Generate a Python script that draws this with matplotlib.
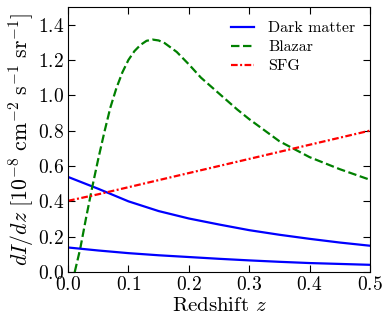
import numpy as np
import matplotlib
matplotlib.use('Agg')
import matplotlib.pyplot as plt

plt.rcParams['font.family'] = 'serif'
plt.rcParams['font.serif'] = ['cmr10']
plt.rcParams['mathtext.fontset'] = 'cm'
plt.rcParams['axes.formatter.use_mathtext'] = True
plt.rcParams['axes.unicode_minus'] = False

# values
z_dm = [0.0, 0.05, 0.1, 0.15, 0.2, 0.25, 0.3, 0.35, 0.4, 0.45, 0.5]
dm_high = [0.538, 0.471, 0.40, 0.345, 0.303, 0.269, 0.237, 0.211, 0.188, 0.167, 0.149]
dm_low = [0.139, 0.122, 0.107, 0.095, 0.085, 0.075, 0.066, 0.058, 0.051, 0.046, 0.041]
sfg = [0.403, 0.44, 0.48, 0.52, 0.56, 0.60, 0.64, 0.68, 0.72, 0.76, 0.80]

z_bl = [0.011, 0.02, 0.03, 0.04, 0.05, 0.06, 0.07, 0.08, 0.09, 0.10, 0.11, 0.12, 0.13,
        0.14, 0.15, 0.16, 0.18, 0.20, 0.22, 0.25, 0.28, 0.30, 0.35, 0.40, 0.45, 0.50]
blazar = [0.0, 0.13, 0.31, 0.48, 0.64, 0.79, 0.93, 1.04, 1.13, 1.20, 1.25, 1.285, 1.308,
          1.315, 1.31, 1.295, 1.245, 1.175, 1.10, 1.01, 0.92, 0.865, 0.74, 0.65, 0.582, 0.522]

fig = plt.figure(figsize=(3.89, 3.27), dpi=100)
ax = fig.add_axes([0.175, 0.168, 0.776, 0.811])

ax.plot(z_dm, dm_high, 'b-', lw=1.6, label='Dark matter')
ax.plot(z_bl, blazar, 'g--', lw=1.6, dashes=(3.8, 1.6), label='Blazar')
ax.plot(z_dm, sfg, 'r-.', lw=1.6, dashes=(3, 1.1, 0.9, 1.1), label='SFG')
ax.plot(z_dm, dm_low, 'b-', lw=1.6)

ax.set_xlim(0, 0.5)
ax.set_ylim(0, 1.5)
ax.set_xticks(np.arange(0, 0.51, 0.1))
ax.set_yticks(np.arange(0, 1.41, 0.2))
ax.tick_params(direction='in', top=True, right=True, labelsize=14, length=5, pad=3)
ax.set_xlabel(r'Redshift $z$', fontsize=15, labelpad=2)
ax.set_ylabel(r'$dI/dz\ [10^{-8}\ \mathrm{cm}^{-2}\ \mathrm{s}^{-1}\ \mathrm{sr}^{-1}]$',
              fontsize=15.7, labelpad=1)
ax.legend(loc='upper right', frameon=False, fontsize=11.5, handlelength=1.45,
          handletextpad=0.9, labelspacing=0.3)

fig.savefig('out.png', dpi=100)
